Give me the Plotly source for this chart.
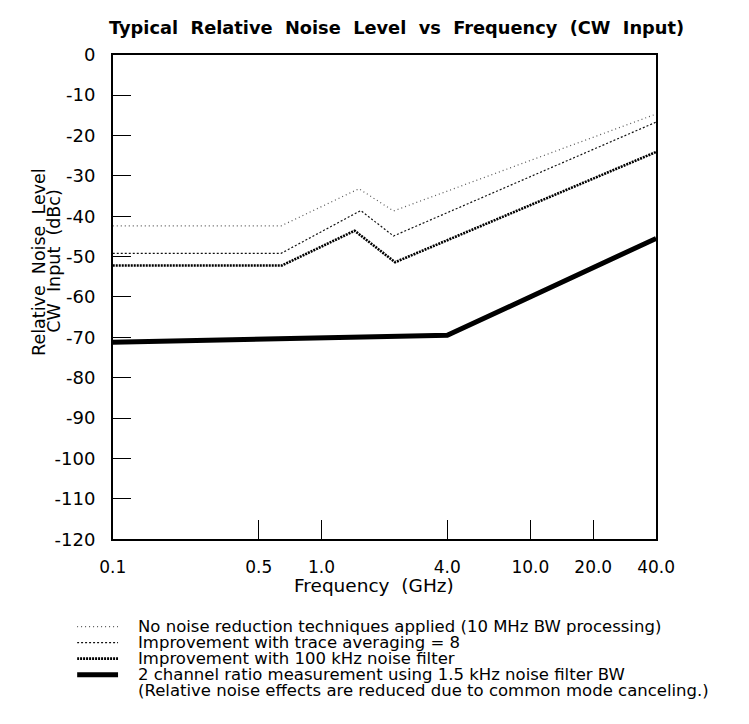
import math
import plotly.graph_objects as go

# ---------------- data ----------------
freq_none = [0.1, 0.64, 1.51, 2.21, 40.0]
lvl_none = [-42.4, -42.4, -33.2, -38.7, -14.7]

freq_avg = [0.1, 0.64, 1.54, 2.21, 40.0]
lvl_avg = [-49.2, -49.2, -38.6, -44.9, -16.7]

freq_filt = [0.1, 0.646, 1.44, 2.25, 40.0]
lvl_filt = [-52.2, -52.2, -43.6, -51.4, -24.1]

freq_ratio = [0.1, 4.0, 40.0]
lvl_ratio = [-71.2, -69.5, -45.5]

x_tickvals = [0.1, 0.5, 1.0, 4.0, 10.0, 20.0, 40.0]
x_ticktext = ["0.1", "0.5", "1.0", "4.0", "10.0", "20.0", "40.0"]
y_tickvals = [0, -10, -20, -30, -40, -50, -60, -70, -80, -90, -100, -110, -120]
y_ticktext = ["0", "-10", "-20", "-30", "-40", "-50", "-60", "-70", "-80", "-90", "-100", "-110", "-120"]

legend_labels = [
    "No noise reduction techniques applied (10 MHz BW processing)",
    "Improvement with trace averaging = 8",
    "Improvement with 100 kHz noise filter",
    "2 channel ratio measurement using 1.5 kHz noise filter BW",
    "(Relative noise effects are reduced due to common mode canceling.)",
]

title_text = "Typical\u00a0 Relative\u00a0 Noise\u00a0 Level\u00a0 vs\u00a0 Frequency\u00a0 (CW\u00a0 Input)"
ytitle_lines = ["Relative\u00a0 Noise\u00a0 Level", "CW\u00a0 Input\u00a0 (dBc)"]
xtitle_text = "Frequency\u00a0 (GHz)"

# ---------------- layout helpers ----------------
W, H = 749, 724
FONT = "DejaVu Sans, Liberation Sans, Arial, sans-serif"


def px(p):
    return p / W


def py(p):
    return 1 - p / H


styles = [
    dict(color="#555555", width=1.2, dash="1px,3px"),
    dict(color="#111111", width=1.2, dash="2px,2px"),
    dict(color="#000000", width=2.6, dash="2px,1px"),
    dict(color="#000000", width=5, dash="solid"),
]

series = [
    (freq_none, lvl_none),
    (freq_avg, lvl_avg),
    (freq_filt, lvl_filt),
    (freq_ratio, lvl_ratio),
]

fig = go.Figure()
for (fx, fy), st in zip(series, styles):
    fig.add_trace(go.Scatter(x=fx, y=fy, mode="lines", line=st,
                             showlegend=False, hoverinfo="skip",
                             xaxis="x", yaxis="y"))

# legend samples drawn in a small helper subplot
for i, st in enumerate(styles):
    fig.add_trace(go.Scatter(x=[0, 1], y=[i, i], mode="lines", line=st,
                             showlegend=False, hoverinfo="skip",
                             xaxis="x2", yaxis="y2"))

annotations = []
for i, lab in enumerate(legend_labels):
    annotations.append(dict(x=1, y=i, xref="x2", yref="y2", text=lab,
                            showarrow=False, xanchor="left", yanchor="middle",
                            xshift=18, font=dict(family=FONT, size=16.5, color="black")))

# y-axis title (two separate lines)
annotations.append(dict(x=px(25.5), y=py(258), xref="paper", yref="paper",
                        text=ytitle_lines[0], textangle=-90, showarrow=False,
                        xanchor="center", yanchor="middle",
                        font=dict(family=FONT, size=17.5, color="black")))
annotations.append(dict(x=px(41), y=py(258), xref="paper", yref="paper",
                        text=ytitle_lines[1], textangle=-90, showarrow=False,
                        xanchor="center", yanchor="middle",
                        font=dict(family=FONT, size=17.5, color="black")))
# x-axis title
annotations.append(dict(x=px(377), y=py(592), xref="paper", yref="paper",
                        text=xtitle_text, showarrow=False,
                        xanchor="center", yanchor="middle",
                        font=dict(family=FONT, size=18.5, color="black")))
# chart title
annotations.append(dict(x=px(400), y=py(17), xref="paper", yref="paper",
                        text="<b>" + title_text + "</b>", showarrow=False,
                        xanchor="center", yanchor="middle",
                        font=dict(family=FONT, size=17.8, color="black")))

row_first = 634
row_gap = 16.5
row_top = row_first - row_gap / 2
row_bot = row_first + 4 * row_gap + row_gap / 2

fig.update_layout(
    width=W, height=H,
    margin=dict(l=0, r=0, t=0, b=0),
    paper_bgcolor="white", plot_bgcolor="white",
    showlegend=False,
    annotations=annotations,
    xaxis=dict(
        type="log", range=[math.log10(0.1), math.log10(40)],
        domain=[px(103.3), px(671.7)],
        tickvals=x_tickvals, ticktext=x_ticktext,
        ticks="inside", ticklen=19, tickwidth=1.3, tickcolor="black",
        showline=True, linecolor="black", linewidth=1.5, mirror=True,
        showgrid=False, zeroline=False,
        ticklabelstandoff=12,
        tickfont=dict(family=FONT, size=17, color="black"),
    ),
    yaxis=dict(
        range=[-120, 0],
        domain=[py(544), py(45)],
        tickvals=y_tickvals, ticktext=y_ticktext,
        ticks="inside", ticklen=19, tickwidth=1.3, tickcolor="black",
        showline=True, linecolor="black", linewidth=1.5, mirror=True,
        showgrid=False, zeroline=False,
        ticklabelstandoff=12,
        tickfont=dict(family=FONT, size=18, color="black"),
    ),
    xaxis2=dict(domain=[px(66), px(109)], range=[0, 1], anchor="y2",
                visible=False, fixedrange=True),
    yaxis2=dict(domain=[py(row_bot), py(row_top)], range=[4.5, -0.5], anchor="x2",
                visible=False, fixedrange=True),
)

fig.write_html("out.html")
